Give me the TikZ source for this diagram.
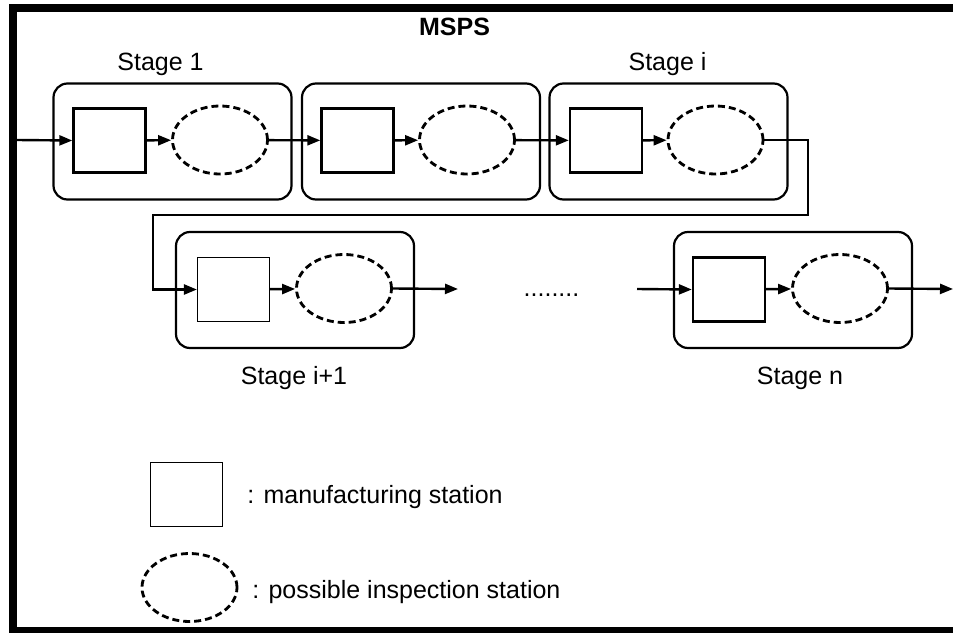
\documentclass[tikz,border=0pt]{standalone}
\usepackage{fontspec}
\setmainfont{Liberation Sans}
\usetikzlibrary{arrows.meta,shapes.geometric}

\tikzset{every picture/.style={line width=0.75pt}}
\tikzset{
	stagebox/.style={draw, rounded corners=14pt, line width=2.2pt, minimum width=238pt, minimum height=116pt, inner sep=0pt},
	mstation/.style={draw, line width=2.4pt, minimum width=72pt, minimum height=64pt, inner sep=0pt},
	thinstation/.style={mstation, line width=1.2pt},
	istation/.style={draw, ellipse, dash pattern=on 7pt off 4pt, line width=2.8pt, minimum width=95pt, minimum height=68pt, inner sep=0pt},
	flow/.style={line width=2.4pt, -{Triangle[length=13pt,width=10pt]}},
	lbl/.style={font=\fontsize{25}{30}\selectfont, inner sep=0pt}
}

\begin{document}
\begin{tikzpicture}[x=1pt,y=1pt,yscale=-1]
	\useasboundingbox (0,0) rectangle (953,632);
	% Draw frame
	\draw [line width=8pt] (975,8) -- (12.5,8) -- (12.5,631) -- (975,631);
	
	% Draw stage boxes
	\node [stagebox] (s1) at (172.5,141.5) {};
	\node [stagebox] (s2) at (421,141.5) {};
	\node [stagebox] (si) at (668.5,141.5) {};
	\node [stagebox] (sj) at (295,290) {};
	\node [stagebox] (sn) at (793,290) {};
	
	% Draw stations
	\node [mstation] (m1) at (109.5,140.5) {};
	\node [istation] (e1) at (220,140) {};
	\node [mstation] (m2) at (357.5,140.5) {};
	\node [istation] (e2) at (467,140) {};
	\node [mstation] (mi) at (606,140.5) {};
	\node [istation] (ei) at (715.5,140) {};
	\node [thinstation] (mj) at (233.5,289.5) {};
	\node [istation] (ej) at (344,288.5) {};
	\node [mstation] (mn) at (729,289.5) {};
	\node [istation] (en) at (840,288.5) {};
	
	% Free ends of the flow
	\coordinate (in1) at (17,140);
	\coordinate (turnA) at (808,140);
	\coordinate (turnB) at (153,215);
	\coordinate (outj) at (458,289);
	\coordinate (inn) at (637,289);
	\coordinate (outn) at (953,289);
	
	% Draw flow arrows
	\draw [flow] (in1) -- (m1.west);
	\draw [flow] (m1) -- (e1);
	\draw [flow] (e1) -- (m2);
	\draw [flow] (m2) -- (e2);
	\draw [flow] (e2) -- (mi);
	\draw [flow] (mi) -- (ei);
	\draw [flow] (ei.east) -- (turnA) |- (turnB) |- (mj.west);
	\draw [flow] (mj) -- (ej);
	\draw [flow] (ej.east) -- (outj);
	\draw [flow] (inn) -- (mn.west);
	\draw [flow] (mn) -- (en);
	\draw [flow] (en.east) -- (outn);
	
	% Legend shapes
	\node [thinstation] (lsq) at (186.5,494.5) {};
	\node [istation] (lel) at (189.5,587.5) {};
	
	% Add text nodes
	\node [lbl, font=\fontsize{25}{30}\selectfont\bfseries, anchor=base] (title) at (454.5,35) {MSPS};
	\node [lbl, anchor=base] (t1) at (160.5,70) {Stage 1};
	\node [lbl, anchor=base] (ti) at (667.5,70) {Stage i};
	\node [lbl, anchor=base] (tj) at (294,384) {Stage i+1};
	\node [lbl, anchor=base] (tn) at (800,384) {Stage n};
	\node [lbl, anchor=base] (dots) at (551.5,296) {........};
	\node [lbl, anchor=base west] (lsqtext) at (247,503) {: manufacturing station};
	\node [lbl, anchor=base west] (leltext) at (252,598) {: possible inspection station};
\end{tikzpicture}
\end{document}
